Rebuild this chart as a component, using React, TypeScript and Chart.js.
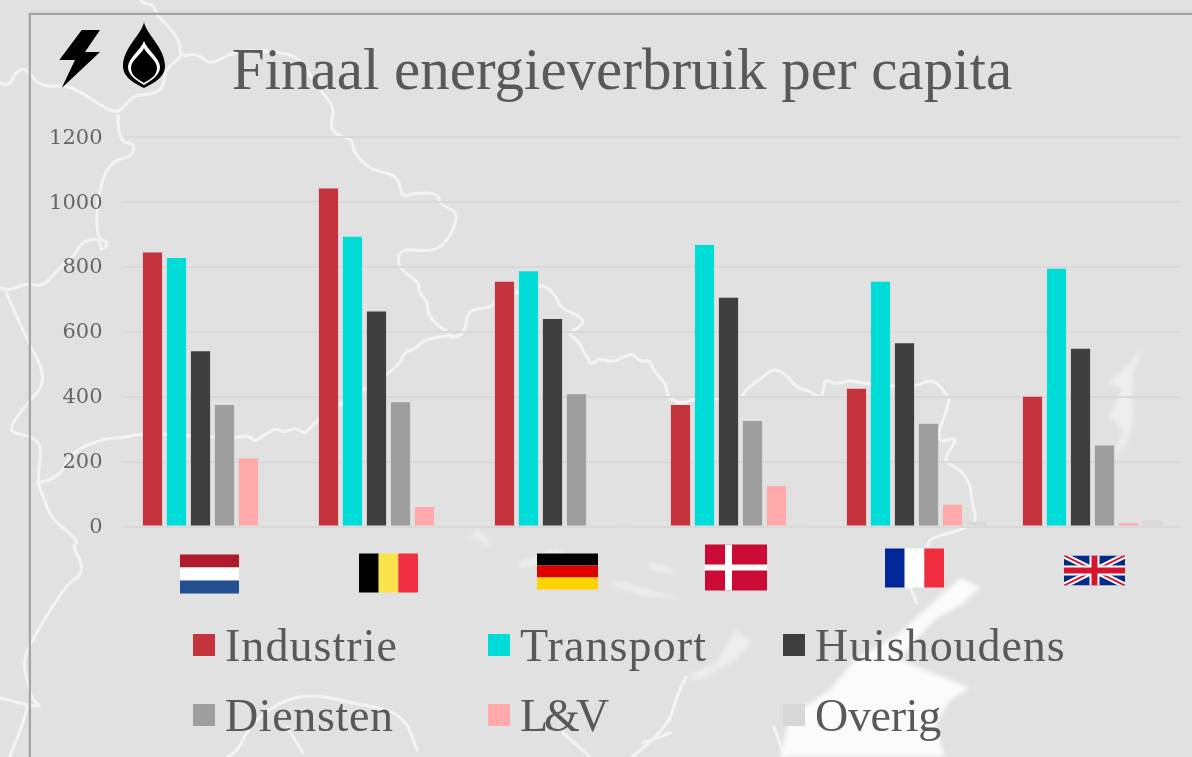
import React, { useEffect, useRef } from "react";
import { Chart, registerables } from "chart.js";

Chart.register(...registerables);

const countries = ["Nederland", "België", "Duitsland", "Denemarken", "Frankrijk", "Verenigd Koninkrijk"];
const seriesNames = ["Industrie", "Transport", "Huishoudens", "Diensten", "L&V", "Overig"];
const industrie = [845, 1042, 755, 375, 425, 400];
const transport = [828, 893, 787, 868, 755, 795];
const huishoudens = [540, 663, 640, 705, 565, 548];
const diensten = [375, 383, 408, 325, 317, 250];
const lv = [210, 60, 0, 125, 67, 10];
const overig = [3, 3, 4, 4, 15, 18];
const seriesColors = ["#c4343f", "#00dcd8", "#3f3f3f", "#9e9e9e", "#ffa9ab", "#d8d8d8"];
const titleText = "Finaal energieverbruik per capita";

const mapLines = [
  "140,0 143,4 153,4 156,14 170,28 180,42 180,57 197,53 210,65 227,55 245,50 280,52 300,58 317,87 335,107 330,127 337,135 353,140 353,152 370,170 398,175 402,198 413,193 438,193 440,205 460,213 447,243 430,252 400,248 397,267 420,283 418,292 428,302 427,310 433,322 448,332 453,338 465,333 468,310 487,308 495,303 538,282 555,293 560,308 582,317 583,325 570,332",
  "570,335 580,342 583,352 588,357 590,365 600,358 613,363 632,352 640,362 650,360 653,370 667,385 667,398 683,404 695,398 740,400 747,388 762,378 773,368 787,375 797,388 808,390 818,397 823,395 825,378 835,385 850,380 860,383 913,388 933,378 947,395 950,402 940,427 938,443 957,437 953,445 943,462 957,467 970,482 972,503 977,520 968,528 930,538 927,547",
  "910,587 917,603",
  "0,83 10,87 15,72 25,68 32,77 43,87 70,85 97,103 118,115 133,95 147,95 163,90 165,70 180,57",
  "118,115 118,142 135,143 132,157 113,160 100,183 95,237 110,243 100,252 100,237 80,243 77,253 57,270 43,287 27,283 10,290 0,288",
  "5,290 28,342 42,367 43,387 27,403 10,427 13,433 33,437 42,447 37,483 45,500 50,517 80,542 72,545 82,563 80,577 67,583 30,643 23,663 28,683 32,700 42,707 28,705 0,698",
  "28,705 22,727 12,750 10,757",
  "37,483 58,480 73,450 107,438 123,438 143,433 234,438 250,435 254,443 275,427 284,433 296,427 305,435 319,417 400,367 403,353 417,348 423,340 450,335 453,338",
  "227,757 237,753 247,730 270,707 307,693 353,703 403,713 417,750",
  "287,727 303,753",
  "563,733 586,753 590,757",
  "632,757 667,730 678,693 686,677",
  "774,727 785,757",
  "643,743 670,733",
];

const paleShapes = [
  "1143,347 1130,363 1108,382 1123,390 1117,400 1110,417 1123,430 1113,458 1127,443 1133,420 1132,397 1133,373",
  "518,563 556,549 583,565 575,570 556,560 522,568",
  "613,580 682,599 640,595 612,584",
  "650,561 684,575 660,572 650,568",
  "468,540 478,530 490,540 487,548 478,538",
  "716,663 736,630 751,643 735,660 700,680 686,677",
];

const whiteBlob = "960,578 980,587 963,604 937,618 915,640 900,660 930,672 970,688 950,700 935,725 945,757 780,757 790,715 830,690 855,660 897,635 925,610";

type FlagPart = { x: number; y: number; w: number; h: number; c: string };

const flagShapes: { left: number; top: number; w: number; h: number; parts: FlagPart[] }[] = [
  { left: -32.5, top: 28, w: 59, h: 39, parts: [
    { x: 0, y: 0, w: 1, h: 1 / 3, c: "#b01a2c" }, { x: 0, y: 1 / 3, w: 1, h: 1 / 3, c: "#ffffff" }, { x: 0, y: 2 / 3, w: 1, h: 1 / 3, c: "#214f91" }] },
  { left: -29.5, top: 27, w: 59, h: 39, parts: [
    { x: 0, y: 0, w: 1 / 3, h: 1, c: "#000000" }, { x: 1 / 3, y: 0, w: 1 / 3, h: 1, c: "#fae34b" }, { x: 2 / 3, y: 0, w: 1 / 3, h: 1, c: "#f13043" }] },
  { left: -27.5, top: 27, w: 61, h: 36, parts: [
    { x: 0, y: 0, w: 1, h: 1 / 3, c: "#000000" }, { x: 0, y: 1 / 3, w: 1, h: 1 / 3, c: "#e00000" }, { x: 0, y: 2 / 3, w: 1, h: 1 / 3, c: "#ffd200" }] },
  { left: -35.5, top: 18, w: 62, h: 46, parts: [
    { x: 0, y: 0, w: 1, h: 1, c: "#cb0b35" }, { x: 20 / 62, y: 0, w: 7 / 62, h: 1, c: "#ffffff" }, { x: 0, y: 20 / 46, w: 1, h: 6 / 46, c: "#ffffff" }] },
  { left: -31.5, top: 22, w: 59, h: 39, parts: [
    { x: 0, y: 0, w: 1 / 3, h: 1, c: "#002698" }, { x: 1 / 3, y: 0, w: 1 / 3, h: 1, c: "#ffffff" }, { x: 2 / 3, y: 0, w: 1 / 3, h: 1, c: "#ef2d3e" }] },
];

function drawUnionJack(ctx: CanvasRenderingContext2D, x: number, y: number, w: number, h: number) {
  ctx.save();
  ctx.beginPath();
  ctx.rect(x, y, w, h);
  ctx.clip();
  ctx.fillStyle = "#032a85";
  ctx.fillRect(x, y, w, h);
  ctx.strokeStyle = "#ffffff";
  ctx.lineWidth = 6;
  ctx.beginPath();
  ctx.moveTo(x, y); ctx.lineTo(x + w, y + h);
  ctx.moveTo(x + w, y); ctx.lineTo(x, y + h);
  ctx.stroke();
  ctx.strokeStyle = "#d5152e";
  ctx.lineWidth = 2;
  ctx.stroke();
  ctx.fillStyle = "#ffffff";
  ctx.fillRect(x + w / 2 - 5, y, 10, h);
  ctx.fillRect(x, y + h / 2 - 5, w, 10);
  ctx.fillStyle = "#d5152e";
  ctx.fillRect(x + w / 2 - 3, y, 6, h);
  ctx.fillRect(x, y + h / 2 - 3, w, 6);
  ctx.restore();
}

const flagPlugin = {
  id: "flags",
  afterDraw(chart: any) {
    const { ctx, scales } = chart;
    const base = scales.y.getPixelForValue(0);
    countries.forEach((_, i) => {
      const cx = scales.x.getPixelForTick(i);
      if (i === 5) {
        drawUnionJack(ctx, cx - 28.5, base + 29, 61, 30);
        return;
      }
      const f = flagShapes[i];
      const x0 = cx + f.left;
      const y0 = base + f.top;
      f.parts.forEach((p) => {
        ctx.fillStyle = p.c;
        ctx.fillRect(x0 + p.x * f.w, y0 + p.y * f.h, p.w * f.w, p.h * f.h);
      });
    });
  },
};

function smoothPath(points: string) {
  const pts = points.split(" ").map((s) => s.split(",").map(Number));
  let d = `M${pts[0][0]},${pts[0][1]}`;
  for (let i = 1; i < pts.length - 1; i++) {
    const mx = (pts[i][0] + pts[i + 1][0]) / 2;
    const my = (pts[i][1] + pts[i + 1][1]) / 2;
    d += ` Q${pts[i][0]},${pts[i][1]} ${mx},${my}`;
  }
  const last = pts[pts.length - 1];
  return d + ` L${last[0]},${last[1]}`;
}

const SERIF = '"Liberation Serif", serif';
const legendSpacing = [1.05, 1.1, 0.95, 0.65, -4, -0.3];

export default function App() {
  const ref = useRef<HTMLCanvasElement | null>(null);
  useEffect(() => {
    if (!ref.current) return;
    const values = [industrie, transport, huishoudens, diensten, lv, overig];
    const chart = new Chart(ref.current, {
      type: "bar",
      data: {
        labels: countries,
        datasets: seriesNames.map((name, i) => ({
          label: name,
          data: values[i],
          backgroundColor: seriesColors[i],
          barPercentage: 0.8,
          categoryPercentage: 144 / 176,
        })),
      },
      options: {
        responsive: false,
        animation: false,
        layout: { padding: { left: 18, right: 18, top: 0, bottom: 222.5 } },
        plugins: {
          legend: { display: false },
          tooltip: { enabled: false },
          title: {
            display: true,
            text: titleText,
            color: "#595959",
            font: { family: SERIF, size: 59, weight: "normal" },
            padding: { top: 38, bottom: 28.5 },
          },
        },
        scales: {
          x: {
            grid: { display: false },
            border: { display: false },
            ticks: { display: false },
          },
          y: {
            min: 0,
            max: 1200,
            afterFit: (s: any) => { s.width = 76.5; },
            grid: { color: "#d9d9d9", lineWidth: 2, drawTicks: false },
            border: { display: false },
            ticks: {
              stepSize: 200,
              color: "#666666",
              padding: 22,
              labelOffset: 1,
              font: { family: '"DejaVu Serif", serif', size: 21 },
              callback: (v: any) => String(v),
            },
          },
          spacer: {
            position: "right",
            min: 0,
            max: 1200,
            afterFit: (s: any) => { s.width = 15.5; },
            grid: { display: false },
            border: { display: false },
            ticks: { display: false },
          },
        },
      },
      plugins: [flagPlugin],
    } as any);
    return () => chart.destroy();
  }, []);

  const colX = [193, 488, 783];
  const rowY = [645, 715];
  return (
    <div style={{ position: "fixed", left: 0, top: 0, width: 1192, height: 757, overflow: "hidden", background: "#e1e1e1" }}>
      <svg width={1192} height={757} style={{ position: "absolute", left: 0, top: 0 }}>
        <defs>
          <filter id="soft"><feGaussianBlur stdDeviation="0.7" /></filter>
          <filter id="softer" x="-10%" y="-10%" width="120%" height="120%"><feGaussianBlur stdDeviation="2.2" /></filter>
        </defs>
        <g filter="url(#soft)" fill="none" stroke="#f3f3f3" strokeWidth={3} strokeLinejoin="round" strokeLinecap="round">
          {mapLines.map((p, i) => <path key={i} d={smoothPath(p)} />)}
        </g>
        <g filter="url(#softer)" fill="#eeeeee" stroke="none">
          {paleShapes.map((p, i) => <polygon key={i} points={p} />)}
        </g>
        <polygon points={whiteBlob} fill="#fbfbfb" filter="url(#softer)" />
      </svg>
      <div style={{ position: "absolute", left: 29, top: 13, width: 1400, height: 1000, border: "2px solid #a4a4a4", boxSizing: "border-box", boxShadow: "0 0 2px #b5b5b5" }} />
      <canvas ref={ref} width={1184} height={757} style={{ position: "absolute", left: 30, top: 0, display: "block" }} />
      <svg width={200} height={100} style={{ position: "absolute", left: 0, top: 0 }}>
        <polygon points="81.7,30 100,30 85,52 100,52 61.7,88 75,60 59.3,60" fill="#000" />
        <path d="M144,22 C146,34 165,48 165,66 C165,78 152,84 144,88 C136,84 123,78 123,66 C123,48 142,34 144,22Z" fill="#000" />
        <path d="M144,41 C147,50 160,58 160,67 C160,76 150,81 144,85 C138,81 128,76 128,67 C128,58 141,50 144,41Z" fill="#fff" />
        <path d="M144,48 C146,54 157,60 157,68 C157,77 148,80 144,83 C140,80 131,77 131,68 C131,60 142,54 144,48Z" fill="#000" />
      </svg>
      {seriesNames.map((name, i) => {
        const left = colX[i % 3];
        const cy = rowY[Math.floor(i / 3)];
        return (
          <div key={name} style={{ position: "absolute", left, top: cy - 30, height: 60, display: "flex", alignItems: "center" }}>
            <span style={{ display: "inline-block", width: 22, height: 22, background: seriesColors[i], marginRight: 10 }} />
            <span style={{ fontFamily: SERIF, fontSize: 46, letterSpacing: legendSpacing[i], color: "#595959", whiteSpace: "nowrap" }}>{name}</span>
          </div>
        );
      })}
    </div>
  );
}
